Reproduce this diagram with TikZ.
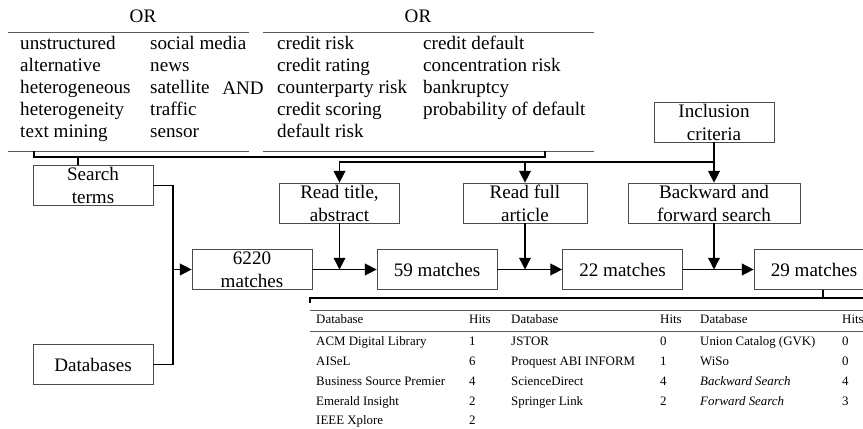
\documentclass[tikz,border=0pt]{standalone}
\usepackage{fontspec}
\setmainfont{Liberation Serif}
\usetikzlibrary{arrows.meta}
\begin{document}
\begin{tikzpicture}[x=0.03cm,y=-0.03cm,
		box/.style={draw=black!70,line width=0.6pt,minimum width=3.6cm,minimum height=1.2cm,inner sep=0pt,align=center,font=\fontsize{16.3}{19.6}\selectfont},
		term/.style={anchor=base west,inner sep=0pt,font=\fontsize{16.3}{19.6}\selectfont},
		cell/.style={anchor=base west,inner sep=0pt,font=\fontsize{11}{13.5}\selectfont},
		rule/.style={draw=black!65,line width=0.8pt},
		link/.style={line width=1.2pt},
		arr/.style={line width=1.2pt,-{Triangle[length=10pt,width=10pt]}}]
		\useasboundingbox (0,0) rectangle (863,429);
		
		\node[term,anchor=base] (or1) at (143,23) {OR};
		\node[term,anchor=base] (or2) at (418,23) {OR};
		\node[term,anchor=base] (and) at (243,94.3) {AND};
		\draw[rule] (8,32) -- (249,32);
		\draw[rule] (8,151) -- (249,151);
		\draw[rule] (263,32) -- (594,32);
		\draw[rule] (263,151) -- (594,151);
		
		\foreach \w [count=\i] in {unstructured,alternative,heterogeneous,heterogeneity,text mining}
			\node[term] (a\i) at (20,28+22*\i) {\w};
		\foreach \w [count=\i] in {social media,news,satellite,traffic,sensor}
			\node[term] (b\i) at (150,28+22*\i) {\w};
		\foreach \w [count=\i] in {credit risk,credit rating,counterparty risk,credit scoring,default risk}
			\node[term] (c\i) at (277,28+22*\i) {\w};
		\foreach \w [count=\i] in {credit default,concentration risk,bankruptcy,probability of default}
			\node[term] (d\i) at (423,28+22*\i) {\w};
		
		\node[box] (st) at (93,185.5) {Search\\terms};
		\node[box] (db) at (93,364.5) {Databases};
		\node[box] (m6220) at (252,269.5) {6220\\matches};
		\node[box] (rt) at (339.5,203) {Read title,\\abstract};
		\node[box] (m59) at (437,269.5) {59 matches};
		\node[box,minimum width=3.72cm] (rf) at (525,203) {Read full\\article};
		\node[box] (m22) at (622.5,269.5) {22 matches};
		\node[box,minimum width=5.16cm] (bf) at (714,203) {Backward and\\forward search};
		\node[box] (ic) at (714,122) {Inclusion\\criteria};
		\node[box] (m29) at (814,269.5) {29 matches};
		
		\draw[link] (34,151) |- (545,157) -- (545,151);
		\coordinate (tk) at (78,157);
		\draw[link] (tk) -- (tk |- st.north);
		
		\coordinate (j1) at (173,269.5);
		\draw[link] (st.east) -| (j1);
		\draw[link] (db.east) -| (j1);
		\draw[arr] (j1) -- (m6220.west);
		
		\coordinate (split) at (714,162);
		\draw[link] (ic.south) -- (split);
		\draw[arr] (split) -- (bf.north);
		\draw[arr] (split) -| (rt.north);
		\draw[arr] (rf.north |- split) -- (rf.north);
		
		\draw[arr] (m6220.east) -- (m59.west);
		\draw[arr] (m59.east) -- (m22.west);
		\draw[arr] (m22.east) -- (m29.west);
		\draw[arr] (rt.south) -- (rt.south |- m59.west);
		\draw[arr] (rf.south) -- (rf.south |- m22.west);
		\draw[arr] (bf.south) -- (bf.south |- m29.west);
		
		\coordinate (tb) at (823,298);
		\draw[link,line width=0.9pt] (310,303) |- (863,298);
		\draw[link,line width=0.9pt] (tb |- m29.south) -- (tb);
		
		\draw[rule,line width=0.6pt] (310,310) -- (863,310);
		\draw[rule,line width=0.6pt] (310,331) -- (863,331);
		\node[cell] (h1) at (316,324) {Database};
		\node[cell] (k1) at (469,324) {Hits};
		\node[cell] (h2) at (511,324) {Database};
		\node[cell] (k2) at (660,324) {Hits};
		\node[cell] (h3) at (700,324) {Database};
		\node[cell] (k3) at (842,324) {Hits};
		\foreach \n/\h [count=\i] in {ACM Digital Library/1,AISeL/6,Business Source Premier/4,Emerald Insight/2,IEEE Xplore/2}{
			\node[cell] (p\i) at (316,346+19.7*\i-19.7) {\n};
			\node[cell] (q\i) at (469,346+19.7*\i-19.7) {\h};}
		\foreach \n/\h [count=\i] in {JSTOR/0,Proquest ABI INFORM/1,ScienceDirect/4,Springer Link/2}{
			\node[cell] (r\i) at (511,346+19.7*\i-19.7) {\n};
			\node[cell] (s\i) at (660,346+19.7*\i-19.7) {\h};}
		\foreach \n/\h [count=\i] in {{Union Catalog (GVK)}/0,WiSo/0,{\textit{Backward Search}}/4,{\textit{Forward Search}}/3}{
			\node[cell] (u\i) at (700,346+19.7*\i-19.7) {\n};
			\node[cell] (v\i) at (842,346+19.7*\i-19.7) {\h};}
	\end{tikzpicture}
\end{document}
